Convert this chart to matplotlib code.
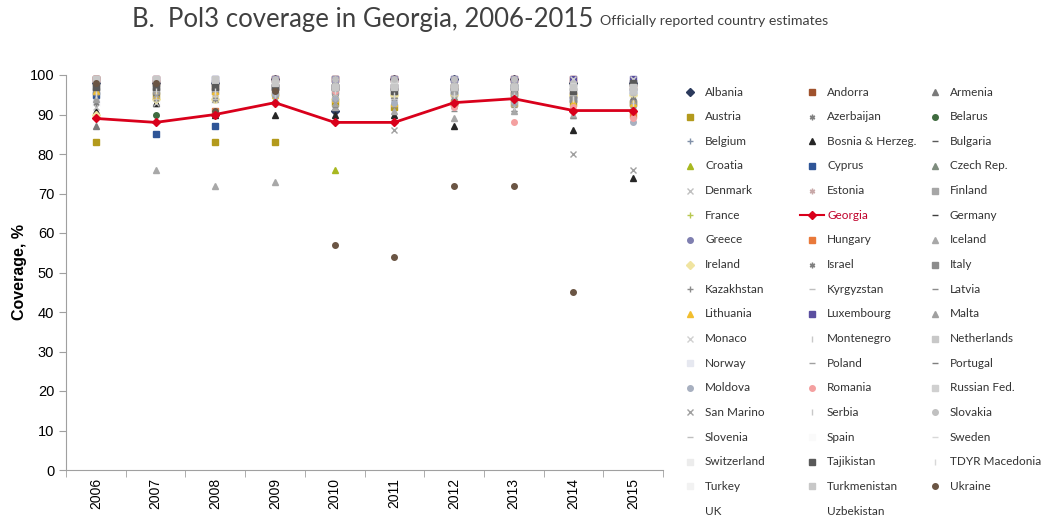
import matplotlib.pyplot as plt
import numpy as np
from matplotlib.lines import Line2D

years = ['2006', '2007', '2008', '2009', '2010', '2011', '2012', '2013', '2014', '2015']
nan = np.nan

# Pol3 coverage (%) per country, 2006-2015
coverage = {}
coverage['Albania'] = [98, 98, 98, 99, 91, 99, 99, 99, 98, 98]
coverage['Andorra'] = [99, 98, 97, 97, 97, 97, 97, 96, 95, 97]
coverage['Armenia'] = [87, 93, 94, 96, 95, 95, 96, 95, 94, 96]
coverage['Austria'] = [83, 95, 83, 83, 93, 92, 93, 93, 93, 93]
coverage['Azerbaijan'] = [96, 97, 97, 95, 96, 98, 97, 96, 96, 97]
coverage['Belarus'] = [97, 90, 99, 96, 98, 96, 97, 96, 97, 98]
coverage['Belgium'] = [99, 99, 99, 99, 99, 99, 99, 99, 99, 99]
coverage['Bosnia & Herzeg.'] = [91, 93, 90, 90, 90, 90, 87, 93, 86, 74]
coverage['Bulgaria'] = [96, 95, 96, 95, 95, 95, 94, 91, 91, 91]
coverage['Croatia'] = [96, 96, 96, 96, 76, 97, 96, 94, 93, 94]
coverage['Cyprus'] = [95, 85, 87, 97, 97, 97, 96, 97, 94, 96]
coverage['Czech Rep.'] = [97, 97, 97, 97, 98, 99, 99, 99, 99, 96]
coverage['Denmark'] = [92, 93, 94, 94, 93, 93, 93, 93, 93, 93]
coverage['Estonia'] = [96, 95, 95, 95, 94, 94, 94, 93, 93, 92]
coverage['Finland'] = [97, 97, 98, 99, 99, 99, 99, 98, 98, 98]
coverage['France'] = [98, 98, 98, 99, 99, 99, 99, 99, 99, 99]
coverage['Georgia'] = [89, 88, 90, 93, 88, 88, 93, 94, 91, 91]
coverage['Germany'] = [96, 94, 94, 95, 95, 95, 95, 95, 95, 94]
coverage['Greece'] = [99, 99, 99, 99, 99, 99, 99, 99, 99, 98]
coverage['Hungary'] = [99, 99, 91, 99, 99, 99, 93, 99, 99, 90]
coverage['Iceland'] = [97, 76, 72, 73, 92, 91, 89, 91, 90, 92]
coverage['Ireland'] = [90, 94, 94, 95, 94, 95, 95, 95, 95, 95]
coverage['Israel'] = [93, 94, 94, 94, 94, 94, 94, 94, 94, 94]
coverage['Italy'] = [96, 96, 96, 96, 96, 96, 96, 95, 94, 93]
coverage['Kazakhstan'] = [99, 99, 99, 99, 99, 99, 99, 99, 99, 99]
coverage['Kyrgyzstan'] = [94, 94, 94, 96, 95, 94, 96, 97, 96, 97]
coverage['Latvia'] = [98, 96, 96, 95, 92, 92, 91, 92, 89, 92]
coverage['Lithuania'] = [96, 95, 96, 95, 94, 93, 93, 93, 93, 93]
coverage['Luxembourg'] = [99, 99, 99, 99, 99, 99, 99, 99, 99, 99]
coverage['Malta'] = [94, 97, 97, 96, 96, 96, 96, 96, 96, 97]
coverage['Monaco'] = [99, 99, 99, 99, 99, 99, 99, 99, 99, 99]
coverage['Montenegro'] = [96, 97, 95, 96, 96, 94, 94, 92, 92, 89]
coverage['Netherlands'] = [97, 97, 97, 97, 97, 97, 97, 97, 97, 96]
coverage['Norway'] = [93, 93, 93, 93, 94, 94, 94, 94, 94, 95]
coverage['Poland'] = [99, 99, 99, 99, 97, 97, 97, 96, 95, 93]
coverage['Portugal'] = [95, 95, 96, 96, 96, 97, 98, 98, 98, 98]
coverage['Moldova'] = [98, 98, 97, 95, 94, 93, 92, 93, 91, 88]
coverage['Romania'] = [97, 97, 91, 97, 96, 96, 92, 88, 92, 89]
coverage['Russian Fed.'] = [98, 98, 98, 98, 97, 98, 97, 97, 97, 97]
coverage['San Marino'] = [97, 95, 97, 94, 93, 86, 94, 93, 80, 76]
coverage['Serbia'] = [95, 94, 95, 95, 97, 97, 96, 95, 94, 93]
coverage['Slovakia'] = [99, 99, 99, 99, 99, 99, 99, 99, 98, 97]
coverage['Slovenia'] = [97, 96, 96, 96, 96, 96, 95, 95, 95, 95]
coverage['Spain'] = [96, 96, 96, 96, 97, 97, 97, 96, 96, 97]
coverage['Sweden'] = [98, 98, 98, 98, 98, 98, 98, 98, 98, 98]
coverage['Switzerland'] = [95, 95, 95, 95, 95, 95, 95, 95, 95, 95]
coverage['Tajikistan'] = [97, 97, 97, 97, 97, 96, 97, 97, 96, 98]
coverage['TDYR Macedonia'] = [95, 96, 96, 96, 96, 95, 95, 94, 94, 93]
coverage['Turkey'] = [90, 96, 96, 96, 97, 97, 98, 98, 96, 96]
coverage['Turkmenistan'] = [99, 99, 99, 98, 97, 97, 97, 97, 97, 97]
coverage['Ukraine'] = [98, 98, 91, 96, 57, 54, 72, 72, 45, nan]
coverage['UK'] = [92, 93, 93, 93, 94, 95, 95, 96, 95, 95]
coverage['Uzbekistan'] = [99, 98, 98, 99, 99, 99, 99, 99, 99, 99]

# marker, colour
style = {
    'Albania': ('D', '#2B3A5C'), 'Andorra': ('s', '#A0522D'), 'Armenia': ('^', '#7A7A7A'),
    'Austria': ('s', '#B39A1C'), 'Azerbaijan': ((6, 2, 0), '#808080'), 'Belarus': ('o', '#3F6B3F'),
    'Belgium': ('+', '#8090A8'), 'Bosnia & Herzeg.': ('^', '#262626'), 'Bulgaria': ('_', '#595959'),
    'Croatia': ('^', '#A8B820'), 'Cyprus': ('s', '#2F5597'), 'Czech Rep.': ('^', '#7E8C7E'),
    'Denmark': ('x', '#C0C0C0'), 'Estonia': ((6, 2, 0), '#C8A8A8'), 'Finland': ('s', '#A6A6A6'),
    'France': ('+', '#B8C850'), 'Georgia': ('D', '#D9001B'), 'Germany': ('_', '#404040'),
    'Greece': ('o', '#7F7FB0'), 'Hungary': ('s', '#E9793A'), 'Iceland': ('^', '#A8A8A8'),
    'Ireland': ('D', '#F0E4A0'), 'Israel': ((6, 2, 0), '#808080'), 'Italy': ('s', '#8C8C8C'),
    'Kazakhstan': ('+', '#8C8C8C'), 'Kyrgyzstan': ('_', '#BFBFBF'), 'Latvia': ('_', '#8C8C8C'),
    'Lithuania': ('^', '#F2BE2E'), 'Luxembourg': ('s', '#5B4FA0'), 'Malta': ('^', '#A0A0A0'),
    'Monaco': ('x', '#D0D0D0'), 'Montenegro': ('|', '#C8C8C8'), 'Netherlands': ('s', '#C8C8C8'),
    'Norway': ('s', '#E6E8F0'), 'Poland': ('_', '#A0A0A0'), 'Portugal': ('_', '#7F7F7F'),
    'Moldova': ('o', '#A8B0C0'), 'Romania': ('o', '#F4A0A0'), 'Russian Fed.': ('s', '#D0D0D0'),
    'San Marino': ('x', '#A0A0A0'), 'Serbia': ('|', '#C8C8C8'), 'Slovakia': ('o', '#C0C0C0'),
    'Slovenia': ('_', '#BFBFBF'), 'Spain': ('s', '#FAFAFA'), 'Sweden': ('_', '#D8D8D8'),
    'Switzerland': ('s', '#ECECEC'), 'Tajikistan': ('s', '#595959'), 'TDYR Macedonia': ('|', '#D8D8D8'),
    'Turkey': ('s', '#F2F2F2'), 'Turkmenistan': ('s', '#C8C8C8'), 'Ukraine': ('o', '#6A5544'),
    'UK': ('s', '#FFFFFF'), 'Uzbekistan': ('s', '#FFFFFF'),
}
faint = ['Spain', 'UK', 'Uzbekistan', 'Turkey', 'Switzerland', 'Norway']

countries = list(coverage.keys())

fig = plt.figure(figsize=(10.41, 5.20), dpi=100)
ax = fig.add_axes([66 / 1041, 50 / 520, 597 / 1041, 395 / 520])

x = np.arange(len(years))
for c in countries:
    if c == 'Georgia':
        continue
    m, col = style[c]
    ax.plot(x, coverage[c], linestyle='none', marker=m, color=col, markersize=4,
            markeredgewidth=1.0, clip_on=False, zorder=1 if c in faint else 2)

ax.plot(x, coverage['Georgia'], color='#D9001B', linewidth=2, marker='D', markersize=4,
        clip_on=False, zorder=5)

ax.set_xlim(-0.5, len(years) - 0.5)
ax.set_ylim(0, 100)
ax.set_yticks(range(0, 101, 10))
ax.set_xticks(x)
ax.set_xticklabels(years, rotation=90, fontsize=10, family='Liberation Sans')
ax.set_xticks(np.arange(-0.5, len(years), 1), minor=True)
ax.tick_params(axis='x', which='major', length=0, pad=6)
ax.tick_params(axis='x', which='minor', length=5, color='#A0A0A0')
ax.tick_params(axis='y', length=5, color='#A0A0A0', labelsize=10.5)
for lab in ax.get_yticklabels():
    lab.set_family('Liberation Sans')
for s in ['top', 'right']:
    ax.spines[s].set_visible(False)
for s in ['left', 'bottom']:
    ax.spines[s].set_color('#A0A0A0')
ax.set_ylabel('Coverage, %', fontsize=11.5, fontweight='bold', family='Liberation Sans', labelpad=2)

# title in two sizes
fig.text(132 / 1041, 1 - 20 / 520, 'B.  Pol3 coverage in Georgia, 2006-2015', fontsize=18.5,
         family='Lato', color='#404040', va='center', ha='left')
fig.text(600 / 1041, 1 - 21 / 520, 'Officially reported country estimates', fontsize=10.2,
         family='Lato', color='#404040', va='center', ha='left')

# legend, filled row by row
col_marker = [690, 812, 935]
col_text = [705, 827, 950]
for i, c in enumerate(countries):
    r, k = divmod(i, 3)
    ypx = 92 + r * 24.65
    yf = 1 - ypx / 520
    m, col = style[c]
    xm = col_marker[k] / 1041
    if c == 'Georgia':
        fig.add_artist(Line2D([(col_marker[k] - 12) / 1041, (col_marker[k] + 12) / 1041], [yf, yf],
                              color=col, linewidth=1.5, transform=fig.transFigure))
        fig.add_artist(Line2D([xm], [yf], marker='D', markersize=4, color=col,
                              transform=fig.transFigure))
        tcol = '#C0002A'
    else:
        fig.add_artist(Line2D([xm], [yf], marker=m, markersize=4, linestyle='none', color=col,
                              transform=fig.transFigure))
        tcol = '#333333'
    fig.text(col_text[k] / 1041, yf, c, fontsize=8.5, family='Lato', color=tcol,
             va='center', ha='left')

fig.savefig('out.png', dpi=100)
